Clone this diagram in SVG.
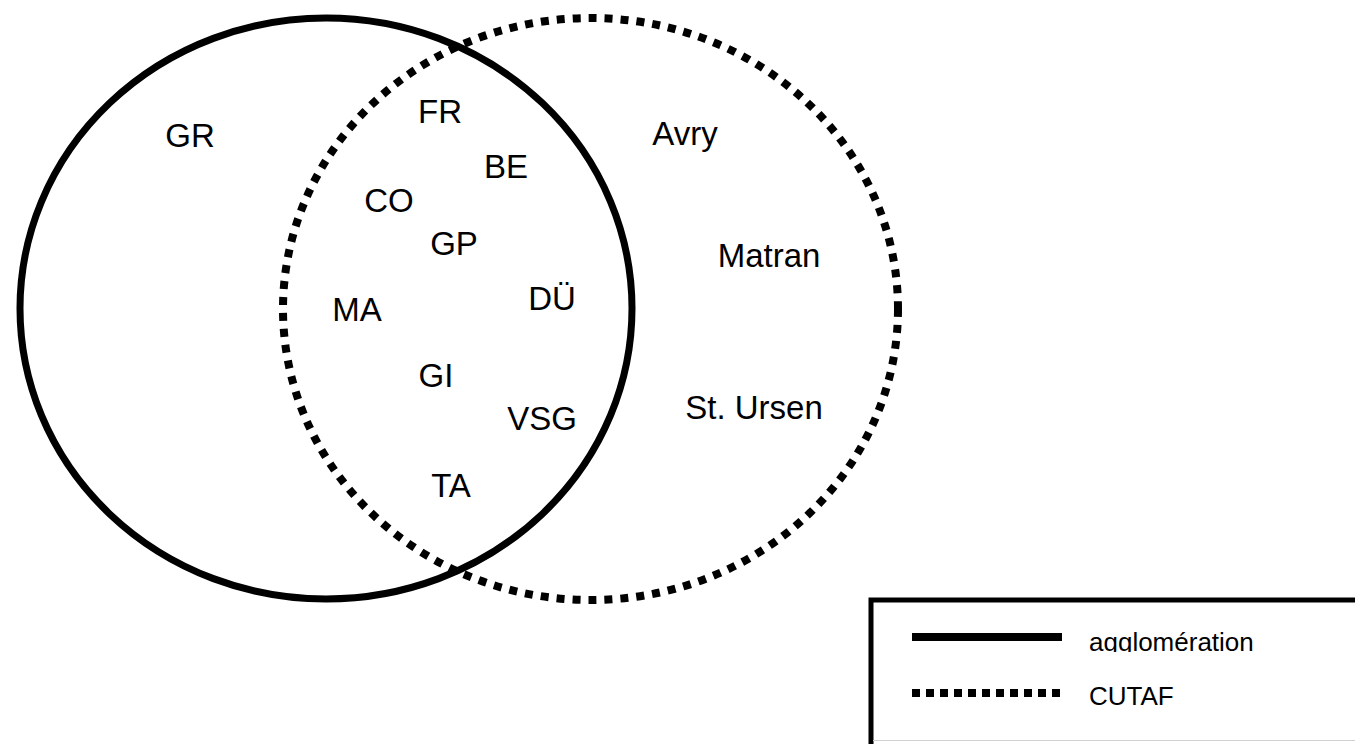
<svg xmlns="http://www.w3.org/2000/svg" width="1355" height="744" viewBox="0 0 1355 744">
<style>
.lbl{font-family:"Liberation Sans",Arial,sans-serif;font-size:33px;fill:#000;text-anchor:middle}
.leg{font-family:"Liberation Sans",Arial,sans-serif;font-size:26px;fill:#000}
.solid{fill:none;stroke:#000;stroke-width:7}
.dotted{fill:none;stroke:#000;stroke-width:8;stroke-dasharray:8 8}
</style>
<defs>
<clipPath id="clipAgg"><rect x="1080" y="600" width="275" height="52"/></clipPath>
</defs>
<rect width="1355" height="744" fill="#fff"/>
<g id="connectors">
<ellipse id="agglomeration" class="solid" cx="326" cy="308.5" rx="306" ry="290.5"/>
<ellipse id="cutaf" class="dotted" cx="590.5" cy="309" rx="307.5" ry="291"/>
</g>
<g id="node-GR"><text class="lbl" x="190" y="147">GR</text></g>
<g id="node-FR"><text class="lbl" x="440" y="123">FR</text></g>
<g id="node-BE"><text class="lbl" x="506" y="178">BE</text></g>
<g id="node-CO"><text class="lbl" x="389" y="212">CO</text></g>
<g id="node-GP"><text class="lbl" x="454" y="255">GP</text></g>
<g id="node-DU"><text class="lbl" x="552" y="310">DÜ</text></g>
<g id="node-MA"><text class="lbl" x="357" y="321">MA</text></g>
<g id="node-GI"><text class="lbl" x="436" y="387">GI</text></g>
<g id="node-VSG"><text class="lbl" x="542" y="430">VSG</text></g>
<g id="node-TA"><text class="lbl" x="451" y="497">TA</text></g>
<g id="node-Avry"><text class="lbl" x="685" y="145">Avry</text></g>
<g id="node-Matran"><text class="lbl" x="769" y="267">Matran</text></g>
<g id="node-StUrsen"><text class="lbl" x="754" y="419">St. Ursen</text></g>
<g id="legend">
<rect x="871" y="600" width="500" height="150" fill="none" stroke="#000" stroke-width="5"/>
<line x1="873" y1="740.5" x2="1355" y2="740.5" stroke="#d0d0d0" stroke-width="1"/>
<line x1="912" y1="637" x2="1062" y2="637" stroke="#000" stroke-width="8"/>
<line x1="912" y1="693" x2="1062" y2="693" stroke="#000" stroke-width="8" stroke-dasharray="8 6"/>
<text class="leg" x="1089" y="651" clip-path="url(#clipAgg)">agglomération</text>
<text class="leg" x="1089" y="705">CUTAF</text>
</g>
</svg>
